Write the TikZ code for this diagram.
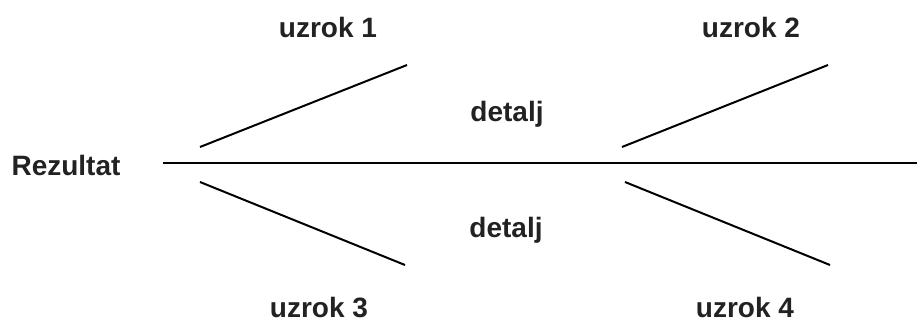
\documentclass[tikz,border=0pt]{standalone}
\usepackage{fontspec}
\setmainfont{Liberation Sans}
\definecolor{txt}{HTML}{222222}
\tikzset{
  lbl/.style={anchor=base, inner sep=0pt, text=txt, font=\fontsize{28}{31}\selectfont\bfseries},
  bone/.style={line width=2pt, black},
}
\begin{document}
\begin{tikzpicture}[x=1pt,y=-1pt]
\useasboundingbox (0,0) rectangle (917,322);
\coordinate (ms) at (163,163);
\coordinate (me) at (917,163);
\coordinate (a1) at (200,147); \coordinate (b1) at (407,65);
\coordinate (a3) at (200,182); \coordinate (b3) at (405,265);
\coordinate (a2) at (622,147); \coordinate (b2) at (828,65);
\coordinate (a4) at (625,182); \coordinate (b4) at (830,265);
\draw[bone] (ms) -- (me);
\draw[bone] (a1) -- (b1);
\draw[bone] (a3) -- (b3);
\draw[bone] (a2) -- (b2);
\draw[bone] (a4) -- (b4);
\node[lbl] (rez) at (66,175) {Rezultat};
\node[lbl] (u1) at (328,37) {uzrok 1};
\node[lbl] (u2) at (751,37) {uzrok 2};
\node[lbl] (u3) at (319,317) {uzrok 3};
\node[lbl] (u4) at (745,317) {uzrok 4};
\node[lbl] (d1) at (507,121) {detalj};
\node[lbl] (d2) at (506,237) {detalj};
\end{tikzpicture}
\end{document}
